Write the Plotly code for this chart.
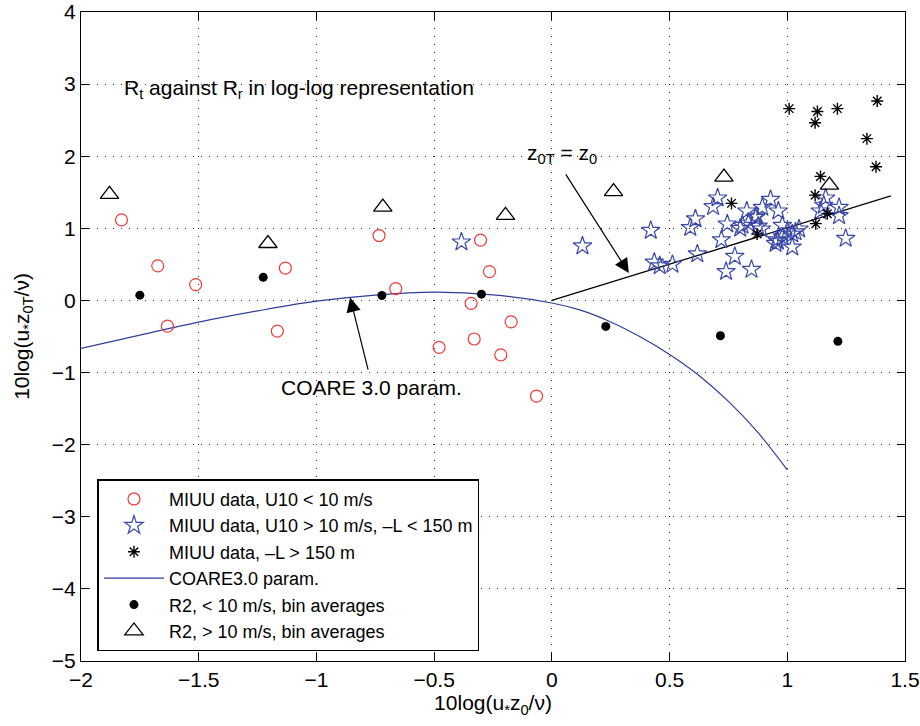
import plotly.graph_objects as go

# ---- data ----
circ_x = [-1.828, -1.674, -1.513, -1.633, -1.132, -1.166, -0.734, -0.663,
          -0.303, -0.265, -0.343, -0.173, -0.330, -0.479, -0.217, -0.065]
circ_y = [1.117, 0.48, 0.22, -0.357, 0.449, -0.426, 0.90, 0.165,
          0.837, 0.40, -0.04, -0.297, -0.535, -0.65, -0.755, -1.327]

star_x = [-0.384, 0.130, 0.42, 0.435, 0.458, 0.512, 0.588, 0.61, 0.618, 0.685,
          0.704, 0.745, 0.72, 0.777, 0.740, 0.848, 0.828, 0.81, 0.80, 0.835,
          0.869, 0.894, 0.929, 0.962, 0.876, 0.89, 0.95, 0.955, 0.979, 0.98,
          1.021, 1.021, 1.05, 1.035, 1.14, 1.163, 1.22, 1.22, 1.248, 1.155,
          0.865, 1.0, 0.96]
star_y = [0.81, 0.755, 0.97, 0.53, 0.48, 0.50, 1.01, 1.13, 0.645, 1.30,
          1.42, 1.06, 0.84, 0.61, 0.40, 0.43, 1.24, 1.04, 1.00, 1.07,
          1.17, 1.29, 1.40, 1.24, 1.03, 0.99, 0.79, 0.84, 1.04, 0.88,
          0.74, 0.92, 0.99, 0.95, 1.24, 1.42, 1.29, 1.175, 0.86, 1.32,
          1.15, 0.96, 0.82]

ast_x = [1.008, 1.128, 1.118, 1.213, 1.382, 1.338, 1.377, 1.141, 1.118,
         0.763, 1.17, 1.121, 0.872]
ast_y = [2.66, 2.62, 2.465, 2.66, 2.765, 2.244, 1.853, 1.72, 1.46,
         1.346, 1.203, 1.065, 0.92]

coare_x = [-2.0, -1.75, -1.5, -1.25, -1.0, -0.75, -0.5, -0.25, 0.0, 0.125, 0.25,
           0.375, 0.5, 0.625, 0.75, 0.875, 1.0]
coare_y = [-0.664, -0.48, -0.30, -0.145, -0.01, 0.075, 0.115, 0.078, -0.035, -0.138,
           -0.298, -0.504, -0.748, -1.04, -1.40, -1.83, -2.35]

dot_x = [-1.75, -1.226, -0.722, -0.299, 0.229, 0.716, 1.215]
dot_y = [0.073, 0.32, 0.069, 0.087, -0.36, -0.49, -0.567]

tri_x = [-1.879, -1.206, -0.718, -0.197, 0.262, 0.731, 1.179]
tri_y = [1.47, 0.79, 1.295, 1.18, 1.51, 1.71, 1.6]

zline_x = [0.0, 1.44]
zline_y = [0.0, 1.45]

xtick_vals = [-2, -1.5, -1, -0.5, 0, 0.5, 1, 1.5]
xtick_text = ["\u22122", "\u22121.5", "\u22121", "\u22120.5", "0", "0.5", "1", "1.5"]
ytick_vals = [-5, -4, -3, -2, -1, 0, 1, 2, 3, 4]
ytick_text = ["\u22125", "\u22124", "\u22123", "\u22122", "\u22121", "0", "1", "2", "3", "4"]

FONT = "Liberation Sans, Arial, Helvetica, sans-serif"
BLUE = "#2f3d9c"
FS = 21

fig = go.Figure()

fig.add_trace(go.Scatter(x=coare_x, y=coare_y, mode="lines", name="COARE3.0 param.",
                         line=dict(color=BLUE, width=1.2, shape="spline", smoothing=1.0),
                         legendrank=4))
fig.add_trace(go.Scatter(x=zline_x, y=zline_y, mode="lines", showlegend=False,
                         line=dict(color="black", width=1.3)))
fig.add_trace(go.Scatter(x=circ_x, y=circ_y, mode="markers", name="MIUU data, U10 < 10 m/s",
                         marker=dict(symbol="circle-open", size=12, color="#f03a3a",
                                     line=dict(width=1.2)), legendrank=1))
fig.add_trace(go.Scatter(x=star_x, y=star_y, mode="markers",
                         name="MIUU data, U10 > 10 m/s, \u2013L < 150 m",
                         marker=dict(symbol="star-open", size=14, color="#3a48a8",
                                     line=dict(width=1.2)), legendrank=2))
fig.add_trace(go.Scatter(x=ast_x, y=ast_y, mode="markers", name="MIUU data, \u2013L > 150 m",
                         marker=dict(symbol="asterisk-open", size=10, color="black",
                                     line=dict(width=1.4, color="black")), legendrank=3))
fig.add_trace(go.Scatter(x=dot_x, y=dot_y, mode="markers", name="R2, < 10 m/s, bin averages",
                         marker=dict(symbol="circle", size=9, color="black"), legendrank=5))
fig.add_trace(go.Scatter(x=tri_x, y=tri_y, mode="markers", name="R2, > 10 m/s, bin averages",
                         marker=dict(symbol="triangle-up-open", size=16, color="black",
                                     line=dict(width=1.3)), legendrank=6))

annos = [
    dict(x=-1.826, y=2.93, xanchor="left", yanchor="middle", showarrow=False,
         text="R<sub>t</sub> against R<sub>r</sub> in log-log representation",
         font=dict(size=FS)),
    dict(x=0.041, y=2.03, xanchor="center", yanchor="middle", showarrow=False,
         text="z<sub>0T</sub> = z<sub>0</sub>", font=dict(size=FS)),
    dict(x=0.327, y=0.38, ax=0.055, ay=1.77, axref="x", ayref="y", xref="x", yref="y",
         text="", showarrow=True, arrowhead=2, arrowsize=2.4, arrowwidth=1.2,
         arrowcolor="black"),
    dict(x=-0.766, y=-1.21, xanchor="center", yanchor="middle", showarrow=False,
         text="COARE 3.0 param.", font=dict(size=FS)),
    dict(x=-0.857, y=0.04, ax=-0.779, ay=-0.98, axref="x", ayref="y", xref="x", yref="y",
         text="", showarrow=True, arrowhead=2, arrowsize=2.4, arrowwidth=1.2,
         arrowcolor="black"),
]

axis_common = dict(showline=True, linecolor="black", linewidth=1.3, mirror="ticks",
                   ticks="inside", ticklen=8, tickcolor="black", tickwidth=1,
                   showgrid=True, gridcolor="#333", griddash="1px,7px", gridwidth=1,
                   zeroline=False, automargin=False,
                   tickfont=dict(size=FS, color="black"))

fig.update_layout(
    width=920, height=726,
    margin=dict(l=81, r=15, t=12, b=65),
    paper_bgcolor="white", plot_bgcolor="white",
    font=dict(family=FONT, color="black", size=FS),
    annotations=annos,
    showlegend=True,
    legend=dict(x=0.02, y=0.015, xanchor="left", yanchor="bottom",
                bgcolor="white", bordercolor="black", borderwidth=1.5,
                font=dict(size=18), tracegroupgap=0, itemwidth=60),
    xaxis=dict(range=[-2, 1.5], tickvals=xtick_vals, ticktext=xtick_text,
               title=dict(text="10log(u<sub>*</sub>z<sub>0</sub>/\u03bd)", font=dict(size=FS),
                          standoff=0),
               **axis_common),
    yaxis=dict(range=[-5, 4], tickvals=ytick_vals, ticktext=ytick_text,
               title=dict(text="10log(u<sub>*</sub>z<sub>0T</sub>/\u03bd)", font=dict(size=FS),
                          standoff=16),
               **axis_common),
)

fig.write_html("out.html", post_script="document.body.style.margin='0px';",
               config={"displayModeBar": False})
